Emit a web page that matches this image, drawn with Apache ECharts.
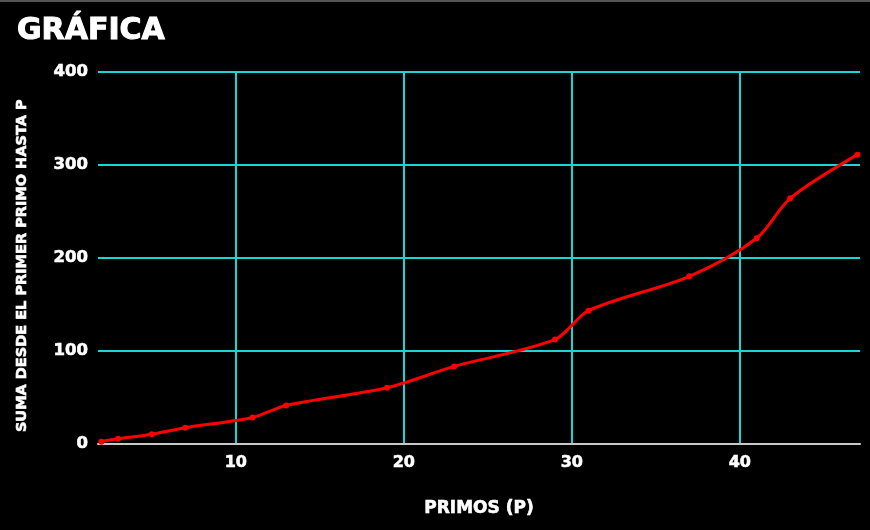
<!DOCTYPE html>
<html>
<head>
<meta charset="utf-8">
<title>Gráfica</title>
<script src="https://cdn.jsdelivr.net/npm/echarts@6/dist/echarts.min.js"></script>
<style>
  html, body { margin: 0; padding: 0; background: #000; }
  #chart { width: 870px; height: 530px; }
</style>
</head>
<body>
<div id="chart"></div>
<script>
// primos usados en la gráfica (el 17 no aparece en el original)
const primos = [2, 3, 5, 7, 11, 13, 19, 23, 29, 31, 37, 41, 43, 47];
// suma acumulada desde el primer primo hasta p
const sumas = [2, 5, 10, 17, 28, 41, 60, 83, 112, 143, 180, 221, 264, 311];
const yTicks = [0, 100, 200, 300, 400];

const FONT = 'DejaVu Sans';

let chart = echarts.init(document.getElementById('chart'));

let puntos = primos.map((p, i) => [p, sumas[i]]);

// texto blanco algo más grueso, como en el original
function txt(size, extra) {
  return Object.assign({
    color: '#fff', fontFamily: FONT, fontWeight: 'bold', fontSize: size,
    textBorderColor: '#fff', textBorderWidth: 0.6
  }, extra || {});
}

chart.setOption({
  backgroundColor: '#000',
  animation: false,
  title: {
    text: 'GRÁFICA',
    left: 12,
    top: 11,
    textStyle: txt(30, { textBorderWidth: 1 })
  },
  graphic: [
    { type: 'rect', shape: { x: 0, y: 0, width: 870, height: 2 }, style: { fill: '#555' } }
  ],
  grid: { left: 98, right: 10, top: 72, bottom: 86.5 },
  xAxis: {
    type: 'value',
    min: 1.8,
    max: 47.15,
    name: 'PRIMOS (P)',
    nameLocation: 'middle',
    nameGap: 57,
    nameTextStyle: txt(17),
    axisLine: { show: true, lineStyle: { color: '#c8c8c8', width: 2 } },
    axisTick: { show: false },
    axisLabel: Object.assign(txt(16), { margin: 11, showMinLabel: false, showMaxLabel: false }),
    splitLine: { show: true, showMinLine: false, showMaxLine: false, lineStyle: { color: '#19d6d6', width: 2 } }
  },
  yAxis: {
    type: 'value',
    min: yTicks[0],
    max: yTicks[yTicks.length - 1],
    interval: 100,
    name: 'SUMA DESDE EL PRIMER PRIMO HASTA P',
    nameLocation: 'middle',
    nameGap: 68,
    nameTextStyle: txt(14.5, { padding: [0, 16, 0, 0] }),
    axisLine: { show: false },
    axisTick: { show: false },
    axisLabel: Object.assign(txt(16.5), { margin: 10 }),
    splitLine: { show: true, lineStyle: { color: '#19d6d6', width: 2 } }
  },
  series: [
    {
      type: 'line',
      data: puntos,
      smooth: 0.3,
      symbol: 'circle',
      symbolSize: 6,
      itemStyle: { color: '#ff0000' },
      lineStyle: { color: '#ff0000', width: 3 }
    }
  ]
});
</script>
</body>
</html>
